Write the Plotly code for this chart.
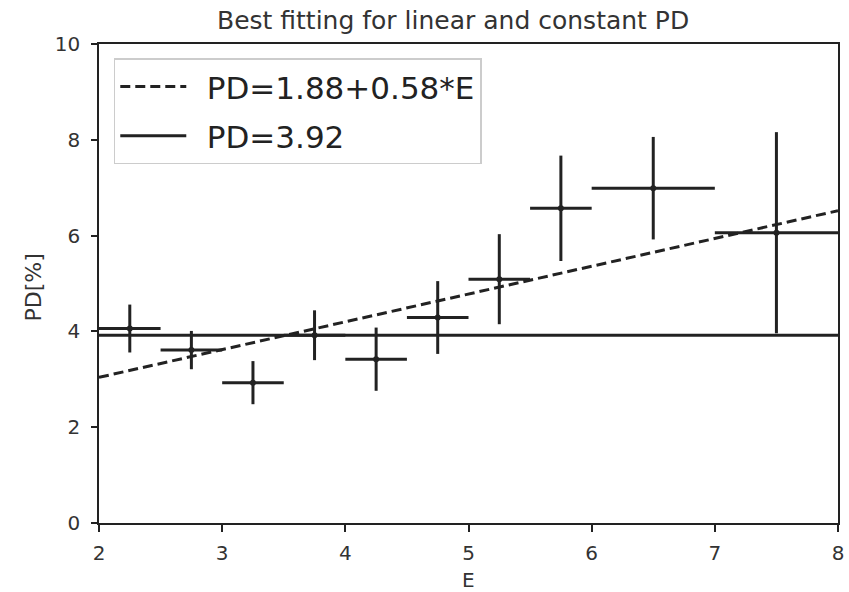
import plotly.graph_objects as go

# Data
E = [2.25, 2.75, 3.25, 3.75, 4.25, 4.75, 5.25, 5.75, 6.5, 7.5]
PD = [4.06, 3.61, 2.93, 3.92, 3.42, 4.29, 5.09, 6.57, 6.99, 6.06]
PD_err = [0.50, 0.40, 0.45, 0.52, 0.66, 0.76, 0.94, 1.10, 1.07, 2.10]
E_err = [0.25, 0.25, 0.25, 0.25, 0.25, 0.25, 0.25, 0.25, 0.5, 0.5]

fit_intercept = 1.88
fit_slope = 0.58
const_pd = 3.92
x_range = [2, 8]
x_ticks = [2, 3, 4, 5, 6, 7, 8]
y_ticks = [0, 2, 4, 6, 8, 10]

col = "#222222"
txt = "#333333"

fig = go.Figure()

fig.add_trace(go.Scatter(
    x=x_range,
    y=[fit_intercept + fit_slope * x for x in x_range],
    mode="lines",
    line=dict(color=col, width=3, dash="10px,5px"),
    name="\u2002PD=1.88+0.58*E", legendgroup="lin",
))
fig.add_trace(go.Scatter(
    x=x_range,
    y=[const_pd, const_pd],
    mode="lines",
    line=dict(color=col, width=3),
    name="\u2002PD=3.92", legendgroup="const",
))
fig.add_trace(go.Scatter(
    x=E, y=PD,
    mode="markers",
    marker=dict(color=col, size=6),
    error_y=dict(type="data", array=PD_err, width=0, thickness=3, color=col),
    error_x=dict(type="data", array=E_err, width=0, thickness=3, color=col),
    showlegend=False,
))

fig.update_layout(
    width=849, height=592,
    paper_bgcolor="white", plot_bgcolor="white",
    margin=dict(l=99, r=11, t=44, b=69, autoexpand=False),
    font=dict(family="DejaVu Sans", color=txt, size=20),
    legend=dict(x=0.02, y=0.97, xanchor="left", yanchor="top",
                bgcolor="white", bordercolor="#cccccc", borderwidth=1.5,
                font=dict(size=31, color=col), tracegroupgap=6,
                itemwidth=66),
    showlegend=True,
    annotations=[
        dict(text="Best fitting for linear and constant PD", xref="paper", yref="paper",
             x=(453 - 99) / 739, y=1, yshift=24, xanchor="center", yanchor="middle",
             showarrow=False, font=dict(size=25, color=txt)),
        dict(text="E", xref="paper", yref="paper", x=0.5, y=0, yshift=-57,
             xanchor="center", yanchor="middle", showarrow=False, font=dict(size=20, color=txt)),
        dict(text="PD[%]", xref="paper", yref="paper", x=0, xshift=-66, y=0.5, yshift=-4,
             xanchor="center", yanchor="middle", textangle=-90, showarrow=False,
             font=dict(size=22, color=txt)),
    ],
)
fig.update_xaxes(range=x_range, tickvals=x_ticks, automargin=False,
                 showgrid=False, zeroline=False, showline=True, linecolor=col, linewidth=1.5,
                 mirror=True, ticks="outside", ticklen=7, tickcolor=col, tickwidth=1.5,
                 ticklabelstandoff=4)
fig.update_yaxes(range=[0, 10], tickvals=y_ticks, automargin=False,
                 showgrid=False, zeroline=False, showline=True, linecolor=col, linewidth=1.5,
                 mirror=True, ticks="outside", ticklen=6, tickcolor=col, tickwidth=1.5,
                 ticklabelstandoff=7)

# remove the default 8px page margin so the figure fills the window exactly
fig.write_html("out.html", config={"displayModeBar": False},
               post_script="document.body.style.margin='0';")
